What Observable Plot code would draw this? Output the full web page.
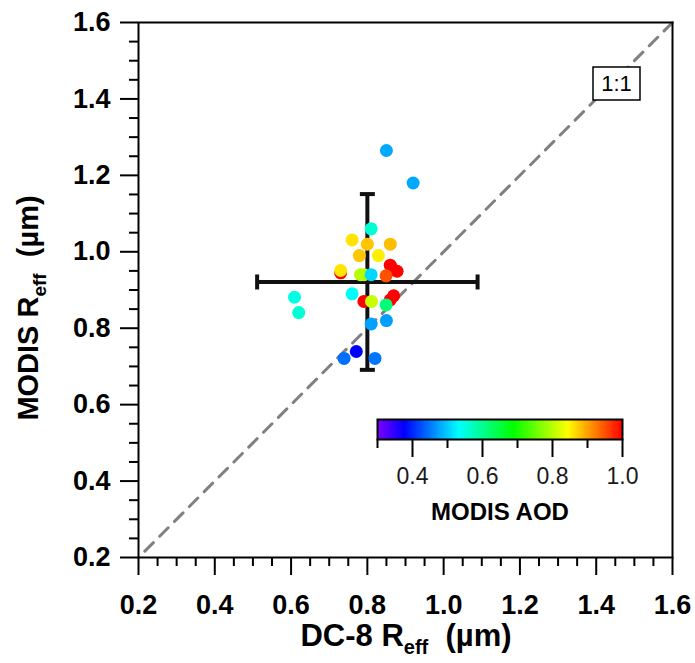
<!DOCTYPE html>
<html><head><meta charset="utf-8">
<script src="https://cdn.jsdelivr.net/npm/d3@7"></script>
<script src="https://cdn.jsdelivr.net/npm/@observablehq/plot@0.6"></script>
<style>
body{margin:0;background:#fff;}
#wrap{position:relative;width:695px;height:663px;overflow:hidden;}
#wrap svg{position:absolute;overflow:visible;}
</style></head><body><div id="wrap"></div>
<script>
// ---- data ----
const dc8Reff   = [0.850, 0.920, 0.810, 0.760, 0.800, 0.860, 0.779, 0.829, 0.730, 0.730, 0.860, 0.878, 0.868, 0.782, 0.791, 0.810, 0.849, 0.609, 0.620, 0.760, 0.791, 0.811, 0.869, 0.860, 0.849, 0.810, 0.850, 0.771, 0.739, 0.820];
const modisReff = [1.265, 1.180, 1.060, 1.031, 1.020, 1.020, 0.990, 0.990, 0.945, 0.951, 0.965, 0.949, 0.953, 0.940, 0.940, 0.940, 0.937, 0.881, 0.841, 0.890, 0.870, 0.870, 0.885, 0.874, 0.861, 0.811, 0.820, 0.739, 0.721, 0.721];
const modisAod  = [0.48, 0.48, 0.56, 0.86, 0.88, 0.885, 0.88, 0.855, 1.00, 0.86, 1.00, 1.00, 1.00, 0.80, 0.80, 0.51, 0.95, 0.55, 0.56, 0.536, 1.00, 0.81, 1.00, 1.00, 0.615, 0.476, 0.475, 0.378, 0.445, 0.45];

// mean and standard deviation (error cross)
const meanX = 0.800, sdX = 0.289;
const meanY = 0.921, sdY = 0.230;

const oneToOne = [0.2, 1.6];
const axisTicks = [0.2, 0.4, 0.6, 0.8, 1.0, 1.2, 1.4, 1.6];
const aodDomain = [0.3, 1.0];
const aodTicks = [0.4, 0.6, 0.8, 1.0];
const aodMinorTicks = [0.3, 0.5, 0.7, 0.9];
const xTitle = ["DC-8 R", "eff", "  (µm)"];
const yTitle = ["MODIS R", "eff", "  (µm)"];
const aodTitle = "MODIS AOD";
const lineLabel = "1:1";

// ---- helpers ----
const points = dc8Reff.map((x, i) => ({x, y: modisReff[i], aod: modisAod[i]}));
const minorTicks = d3.range(0.2, 1.6001, 0.05).map(v => +v.toFixed(2)).filter(v => !axisTicks.some(t => Math.abs(t - v) < 1e-6));
const rainbow = t => d3.hsl(270 * (1 - t), 1, 0.5).toString();
const colorScale = {type: "linear", domain: aodDomain, interpolate: () => rainbow, clamp: true};
const FONT = "'Liberation Sans', Arial, Helvetica, sans-serif";
const vCap = {draw(ctx) { ctx.moveTo(0, -7.5); ctx.lineTo(0, 7.5); }};
const hCap = {draw(ctx) { ctx.moveTo(-7.5, 0); ctx.lineTo(7.5, 0); }};
const boxSym = {draw(ctx) { ctx.rect(-23.5, -16.5, 47, 33); }};

const main = Plot.plot({
  width: 695, height: 663,
  marginLeft: 138, marginRight: 23, marginTop: 22, marginBottom: 106,
  style: {fontFamily: FONT, background: "white", overflow: "visible"},
  x: {domain: [0.2, 1.6]},
  y: {domain: [0.2, 1.6]},
  color: colorScale,
  marks: [
    Plot.line(oneToOne, {x: d => d, y: d => d, stroke: "#808080", strokeWidth: 3, strokeDasharray: "12,9", strokeDashoffset: -9}),
    Plot.ruleY([meanY], {x1: meanX - sdX, x2: meanX + sdX, stroke: "#111", strokeWidth: 4}),
    Plot.ruleX([meanX], {y1: meanY - sdY, y2: meanY + sdY, stroke: "#111", strokeWidth: 4}),
    Plot.dot([meanX - sdX, meanX + sdX], {x: d => d, y: () => meanY, symbol: vCap, fill: "none", stroke: "#111", strokeWidth: 4}),
    Plot.dot([meanY - sdY, meanY + sdY], {x: () => meanX, y: d => d, symbol: hCap, fill: "none", stroke: "#111", strokeWidth: 4}),
    Plot.dot(points, {x: "x", y: "y", fill: "aod", r: 6.5, stroke: null}),
    Plot.dot([0], {frameAnchor: "top-right", dx: -56, dy: 61, symbol: boxSym, fill: "white", stroke: "black", strokeWidth: 1.5}),
    Plot.text([lineLabel], {frameAnchor: "top-right", dx: -56, dy: 61, text: d => d, textAnchor: "middle", fontSize: 22, fill: "black", lineAnchor: "middle"}),
    Plot.axisX(axisTicks, {tickSize: 18, tickPadding: 19, tickFormat: d3.format(".1f"), fontSize: 27, fontWeight: "bold", strokeWidth: 2, label: null, fill: "black"}),
    Plot.axisX(minorTicks, {tickSize: 9, tickFormat: () => "", strokeWidth: 2, label: null}),
    Plot.axisY(axisTicks, {tickSize: 18, tickPadding: 10, tickFormat: d3.format(".1f"), fontSize: 27, fontWeight: "bold", strokeWidth: 2, label: null, fill: "black"}),
    Plot.axisY(minorTicks, {tickSize: 9, tickFormat: () => "", strokeWidth: 2, label: null}),
    Plot.frame({stroke: "black", strokeWidth: 2})
  ]
});
main.style.left = "0px"; main.style.top = "0px";

// axis titles with subscript
function addTitle(svg, parts, x, y, rotate, size) {
  const t = svg.append("text")
    .attr("transform", `translate(${x},${y})` + (rotate ? " rotate(-90)" : ""))
    .attr("text-anchor", "middle")
    .attr("font-family", FONT).attr("font-weight", "bold").attr("font-size", size).attr("fill", "black");
  t.append("tspan").text(parts[0]);
  t.append("tspan").attr("dy", 8).attr("font-size", Math.round(size * 0.64)).text(parts[1]);
  t.append("tspan").attr("dy", -8).style("white-space", "pre").text(parts[2]);
}
const msvg = d3.select(main);
addTitle(msvg, xTitle, 406, 646, false, 31);
addTitle(msvg, yTitle, 38, 308, true, 29);

// ---- colour bar ----
const slices = d3.range(aodDomain[0], aodDomain[1], 0.0025);
const bar = Plot.plot({
  width: 285, height: 130,
  marginLeft: 20, marginRight: 20, marginTop: 10, marginBottom: 100,
  style: {fontFamily: FONT, background: "transparent", overflow: "visible"},
  x: {domain: aodDomain},
  y: {domain: [0, 1], axis: null},
  color: colorScale,
  marks: [
    Plot.rect(slices, {x1: d => d, x2: d => Math.min(d + 0.004, aodDomain[1]), y1: 0, y2: 1, fill: d => d + 0.00125, shapeRendering: "crispEdges"}),
    Plot.frame({stroke: "black", strokeWidth: 2}),
    Plot.axisX(aodTicks, {tickSize: 18, tickPadding: 10, tickFormat: d3.format(".1f"), fontSize: 23, strokeWidth: 2, label: null, fill: "#1a1a1a"}),
    Plot.axisX(aodMinorTicks, {tickSize: 9, tickFormat: () => "", strokeWidth: 2, label: null}),
    Plot.text([aodTitle], {frameAnchor: "bottom", dy: 73, text: d => d, fontSize: 24, fontWeight: "bold", fill: "black", lineAnchor: "middle"})
  ]
});
bar.style.left = "357px"; bar.style.top = "409px";

const wrap = document.getElementById("wrap");
wrap.appendChild(main);
wrap.appendChild(bar);
</script>
</body></html>
